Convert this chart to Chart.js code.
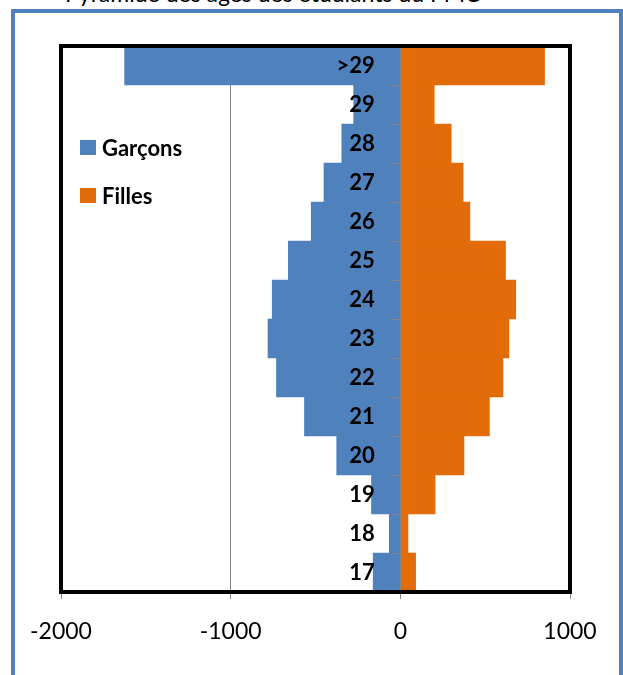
<!DOCTYPE html>
<html>
<head>
<meta charset="utf-8">
<script src="https://cdn.jsdelivr.net/npm/chart.js@4"></script>
<style>
  html, body { margin: 0; padding: 0; background: #fff; }
  body { width: 623px; height: 675px; position: relative; overflow: hidden; font-family: Lato, "Open Sans", sans-serif; }
  #title { position: absolute; left: 34px; top: -21px; font-size: 23px; white-space: nowrap; color: #000; }
  #title span { display: inline-block; width: 31px; }
  #frame { position: absolute; left: 11px; top: 9px; width: 604px; height: 700px; border: 4px solid #4f81bd; }
  #chart { position: absolute; left: 0; top: 0; }
  #legend { position: absolute; left: 80px; top: 134px; font-weight: bold; font-size: 22px; }
  .item { height: 26px; margin-bottom: 22px; display: flex; align-items: center; }
  .box { width: 16px; height: 15px; margin-right: 6px; }
</style>
</head>
<body>
<div id="title"><span>✓</span>Pyramide des âges des étudiants du PMC</div>
<div id="frame"></div>
<canvas id="chart" width="623" height="675"></canvas>
<div id="legend"></div>
<script>
// age groups, oldest on top
const ages = [ '>29', '29', '28', '27', '26', '25', '24', '23', '22', '21', '20', '19', '18', '17' ]
const garcons = [ 1625, 275, 345, 450, 525, 660, 755, 780, 730, 565, 375, 170, 65, 160 ]
const filles = [ 850, 200, 300, 370, 410, 620, 680, 640, 605, 525, 375, 205, 45, 90 ]
const xTicks = [ -2000, -1000, 0, 1000 ]

const blue = '#4f81bd'
const orange = '#e36c0a'

// black frame around the plot area
const plotBorder = {
  id: 'plotBorder',
  afterDraw( chart ) {
    const { ctx, chartArea: a } = chart
    ctx.save()
    ctx.strokeStyle = '#000'
    ctx.lineWidth = 4
    ctx.strokeRect( a.left, a.top, a.right - a.left, a.bottom - a.top )
    ctx.restore()
  }
}

const chart = new Chart( document.getElementById( 'chart' ), {
  type: 'bar',
  data: {
    labels: ages,
    datasets: [
      { label: 'Garçons', data: garcons.map( v => -v ), backgroundColor: blue },
      { label: 'Filles', data: filles, backgroundColor: orange }
    ]
  },
  options: {
    indexAxis: 'y',
    responsive: false,
    animation: false,
    devicePixelRatio: 1,
    barPercentage: 1,
    categoryPercentage: 1,
    layout: { padding: { left: 61, right: 53, top: 46, bottom: 0 } },
    plugins: { legend: { display: false }, tooltip: { enabled: false } },
    scales: {
      x: {
        stacked: true,
        min: xTicks[ 0 ],
        max: xTicks[ xTicks.length - 1 ],
        afterBuildTicks( scale ) { scale.ticks = xTicks.map( v => ( { value: v } ) ) },
        afterFit( scale ) { scale.height = 83 },
        grid: { color: '#868686', lineWidth: 1, tickLength: 7 },
        border: { display: false },
        ticks: {
          padding: 19,
          color: '#000',
          font: { family: 'Lato', size: 23 },
          callback: v => String( v )
        }
      },
      // axis line and tick marks at zero
      y: {
        stacked: true,
        position: { x: 0 },
        grid: { drawOnChartArea: false, color: '#868686', tickLength: 8, z: 1 },
        border: { color: '#868686', width: 1.5, z: 1 },
        ticks: { display: false }
      },
      // age labels, set a little left of the zero line
      ages: {
        type: 'category',
        axis: 'y',
        offset: true,
        position: { x: -150 },
        grid: { display: false },
        border: { display: false },
        ticks: {
          z: 1,
          color: '#000',
          font: { family: 'Lato', size: 22, weight: 'bold' }
        }
      }
    }
  },
  plugins: [ plotBorder ]
} )

// legend
const legend = document.getElementById( 'legend' )
chart.data.datasets.forEach( ds => {
  const item = document.createElement( 'div' )
  item.className = 'item'
  item.innerHTML = `<div class="box" style="background:${ ds.backgroundColor }"></div>${ ds.label }`
  legend.appendChild( item )
} )
</script>
</body>
</html>
